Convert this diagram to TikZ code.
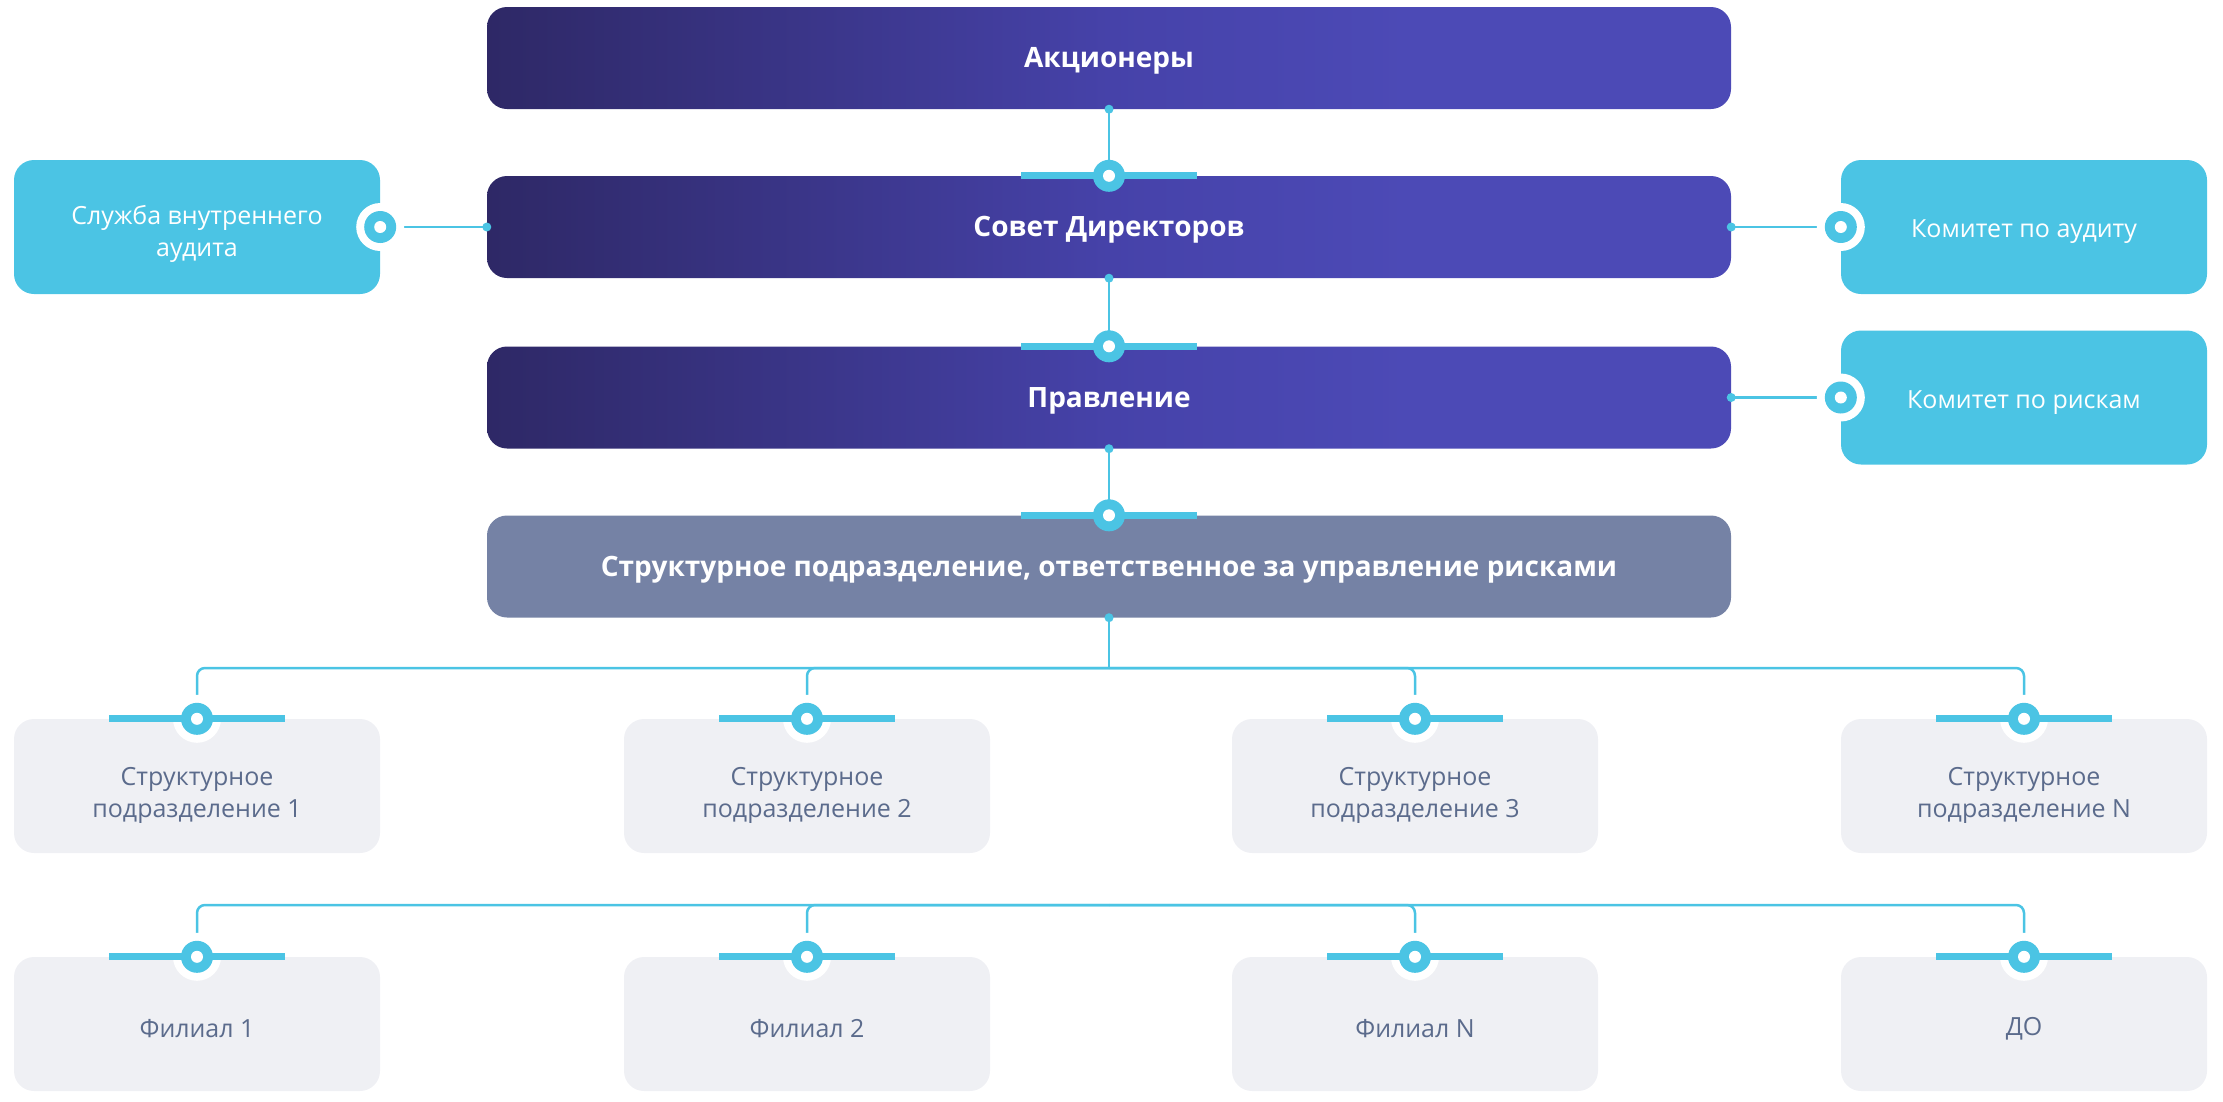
\documentclass[tikz,border=0pt]{standalone}
\usepackage{fontspec}
\setmainfont{Open Sans}
\usetikzlibrary{calc}
\definecolor{cy}{HTML}{4BC4E4}
\definecolor{pD}{HTML}{2E2866}
\definecolor{pM}{HTML}{4642A9}
\definecolor{pL}{HTML}{4C4AB6}
\definecolor{sub}{HTML}{7582A5}
\definecolor{gb}{HTML}{EFF0F4}
\definecolor{gt}{HTML}{5B6B8C}
\pgfdeclarehorizontalshading{purpshade}{100bp}{color(0bp)=(pD); color(25bp)=(pD); color(50bp)=(pM); color(62bp)=(pL); color(100bp)=(pL)}
\newcommand\mkknob[1]{%
  \fill[cy] ($(#1)+(-88,-3.5)$) rectangle ($(#1)+(88,3.5)$);
  \fill[cy] (#1) circle (16pt);
  \fill[white] (#1) circle (6pt);}
\newcommand\mkring[1]{%
  \fill[white] (#1) circle (24pt);
  \fill[cy] (#1) circle (16pt);
  \fill[white] (#1) circle (6pt);}
\newcommand\mkdot[1]{\fill[cy] (#1) circle (4.5pt);}
\begin{document}
\begin{tikzpicture}[x=1pt,y=-1pt,
  purple/.style={rounded corners=20pt, minimum width=1244pt, minimum height=102pt,
    shading=purpshade, inner sep=0pt},
  subbox/.style={rounded corners=20pt, minimum width=1244pt, minimum height=102pt,
    fill=sub, inner sep=0pt},
  cybox/.style={rounded corners=20pt, fill=cy, minimum width=366pt, minimum height=134pt, inner sep=0pt},
  graybox/.style={cybox, fill=gb},
  btxt/.style={text=white, inner sep=0pt, yshift=-3pt, font=\fontsize{28}{33}\selectfont\bfseries},
  wtxt/.style={text=white, inner sep=0pt, align=center, font=\fontsize{25}{32}\selectfont},
  gtxt/.style={wtxt, text=gt},
  conn/.style={draw=cy, line width=2.5pt}]
\useasboundingbox (0,0) rectangle (2223,1101);
% main column
\node[purple] (sh) at (1109,58) {};
\node[purple] (sd) at (1109,227) {};
\node[purple] (pr) at (1109,397.5) {};
\node[subbox] (su) at (1109,566.5) {};
\node[btxt] (sht) at (sh.center) {Акционеры};
\node[btxt] (sdt) at (sd.center) {Совет Директоров};
\node[btxt] (prt) at (pr.center) {Правление};
\node[btxt] (sut) at (su.center) {Структурное подразделение, ответственное за управление рисками};
% side boxes
\node[cybox] (audit) at (197,227) {};
\node[cybox] (ka) at (2024,227) {};
\node[cybox] (kr) at (2024,397.5) {};
\node[wtxt, yshift=-7pt] (auditt) at (audit.center) {Служба внутреннего\\аудита};
\node[wtxt, yshift=-5pt] (kat) at (ka.center) {Комитет по аудиту};
\node[wtxt, yshift=-5pt] (krt) at (kr.center) {Комитет по рискам};
% departments
\node[graybox] (d1) at (197,786) {};
\node[graybox] (d2) at (807,786) {};
\node[graybox] (d3) at (1415,786) {};
\node[graybox] (d4) at (2024,786) {};
\node[gtxt, yshift=-9pt] (d1t) at (d1.center) {Структурное\\подразделение 1};
\node[gtxt, yshift=-9pt] (d2t) at (d2.center) {Структурное\\подразделение 2};
\node[gtxt, yshift=-9pt] (d3t) at (d3.center) {Структурное\\подразделение 3};
\node[gtxt, yshift=-9pt] (d4t) at (d4.center) {Структурное\\подразделение N};
% branches
\node[graybox] (f1) at (197,1024) {};
\node[graybox] (f2) at (807,1024) {};
\node[graybox] (f3) at (1415,1024) {};
\node[graybox] (f4) at (2024,1024) {};
\node[gtxt, yshift=-5pt] (f1t) at (f1.center) {Филиал 1};
\node[gtxt, yshift=-5pt] (f2t) at (f2.center) {Филиал 2};
\node[gtxt, yshift=-5pt] (f3t) at (f3.center) {Филиал N};
\node[gtxt, yshift=-5pt] (f4t) at (f4.center) {ДО};
\coordinate (bus1) at (1109,668);
\coordinate (bus2) at (1109,905);
% connectors
\draw[conn] (sh.south) -- (sd.north);
\draw[conn] (sd.south) -- (pr.north);
\draw[conn] (pr.south) -- (su.north);
\draw[conn] (sd.west) -- (audit.east);
\draw[conn] (sd.east) -- (ka.west);
\draw[conn] (pr.east) -- (kr.west);
\draw[conn] (su.south) -- (bus1);
\foreach \n in {d1,d2,d3,d4}{\draw[conn, rounded corners=8pt] (bus1) -| (\n.north);}
\foreach \n in {f1,f2,f3,f4}{\draw[conn, rounded corners=8pt] (bus2) -| (\n.north);}
% dots
\mkdot{sh.south}\mkdot{sd.south}\mkdot{pr.south}\mkdot{su.south}
\mkdot{sd.west}\mkdot{sd.east}\mkdot{pr.east}
% knobs
\mkknob{sd.north}\mkknob{pr.north}\mkknob{su.north}
\foreach \n in {d1,d2,d3,d4,f1,f2,f3,f4}{\fill[white] (\n.north) circle (24pt);}
\foreach \n in {d1,d2,d3,d4,f1,f2,f3,f4}{\mkknob{\n.north}}
\mkring{audit.east}\mkring{ka.west}\mkring{kr.west}
\end{tikzpicture}
\end{document}
